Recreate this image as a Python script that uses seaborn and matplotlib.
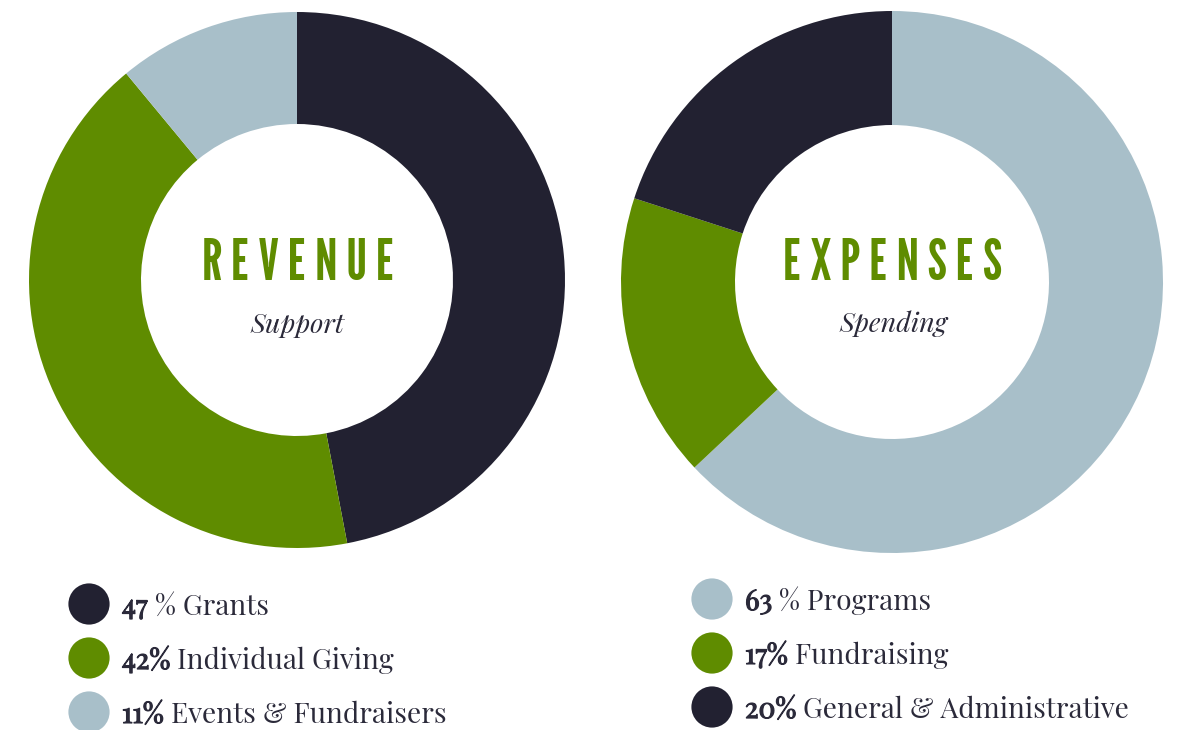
import matplotlib
matplotlib.use("Agg")
import matplotlib.pyplot as plt
import matplotlib.patheffects as pe
from matplotlib import font_manager as fm
import seaborn as sns
import pandas as pd

# ---- data ----
rev_labels = ["Grants", "Individual Giving", "Events & Fundraisers"]
rev_values = [47, 42, 11]
rev_bold = ["47", "42%", "11%"]
rev_rest = [" % Grants", " Individual Giving", " Events & Fundraisers"]

exp_labels = ["Programs", "Fundraising", "General & Administrative"]
exp_values = [63, 17, 20]
exp_bold = ["63", "17%", "20%"]
exp_rest = [" % Programs", " Fundraising", " General & Administrative"]

DARK = "#222131"
GREEN = "#5f8c00"
LIGHT = "#a8bfc9"
TEXT = "#2b2a3a"
rev_colors = [DARK, GREEN, LIGHT]
exp_colors = [LIGHT, GREEN, DARK]

_fams = {f.name for f in fm.fontManager.ttflist}


def pick(cands, default):
    for c in cands:
        if c in _fams:
            return c
    return default


TITLE_FONT = pick(["League Gothic", "Pathway Gothic One", "Oswald"], "DejaVu Sans")
SERIF = pick(["Playfair Display", "Liberation Serif"], "DejaVu Serif")

sns.set_theme(style="white")
plt.rcParams["font.family"] = [SERIF, "DejaVu Serif"]

W, H = 1179, 730
fig = plt.figure(figsize=(W / 100, H / 100), dpi=100)
ax = fig.add_axes([0, 0, 1, 1])


def donut(values, colors, center, r, width):
    ax.pie(values, colors=colors, center=center, radius=r, startangle=90,
           counterclock=False, frame=True,
           wedgeprops=dict(width=width, linewidth=0, antialiased=True))


donut(rev_values, rev_colors, (297, 450), 268, 112)
donut(exp_values, exp_colors, (892, 448), 271, 114)

title_font = dict(family=[TITLE_FONT, "DejaVu Sans"], color=GREEN, fontsize=41)
ax.text(298, 450, "R E V E N U E", ha="center", va="baseline", **title_font)
ax.text(893, 450, "E X P E N S E S", ha="center", va="baseline", **title_font)

sub_font = dict(family=[SERIF, "DejaVu Serif"], style="italic",
                color=TEXT, fontsize=19.5)
ax.text(297, 397, "Support", ha="center", va="baseline", **sub_font)
ax.text(893, 398, "Spending", ha="center", va="baseline", **sub_font)

bold_fx = [pe.withStroke(linewidth=0.9, foreground=TEXT)]


def legend(x0, y0, bolds, rests, colors):
    n = len(bolds)
    df = pd.DataFrame({"x": [x0] * n,
                       "y": [y0 - i * 54 for i in range(n)],
                       "k": list(range(n))})
    sns.scatterplot(data=df, x="x", y="y", hue="k", palette=colors, s=880,
                    linewidth=0, legend=False, ax=ax)
    for i in range(n):
        yb = y0 - i * 54 - 11
        t = ax.text(x0 + 33, yb, bolds[i], ha="left", va="baseline",
                    fontsize=20.3, fontweight="bold", color=TEXT,
                    path_effects=bold_fx)
        ax.annotate(rests[i], xy=(1, 0), xycoords=t, ha="left", va="bottom",
                    fontsize=20.3, color=TEXT)


legend(89, 126, rev_bold, rev_rest, rev_colors)
legend(712, 131, exp_bold, exp_rest, exp_colors)

ax.set_xlim(0, W)
ax.set_ylim(0, H)
ax.set_aspect("equal")
ax.axis("off")
fig.savefig("out.png", dpi=100, facecolor="white")
